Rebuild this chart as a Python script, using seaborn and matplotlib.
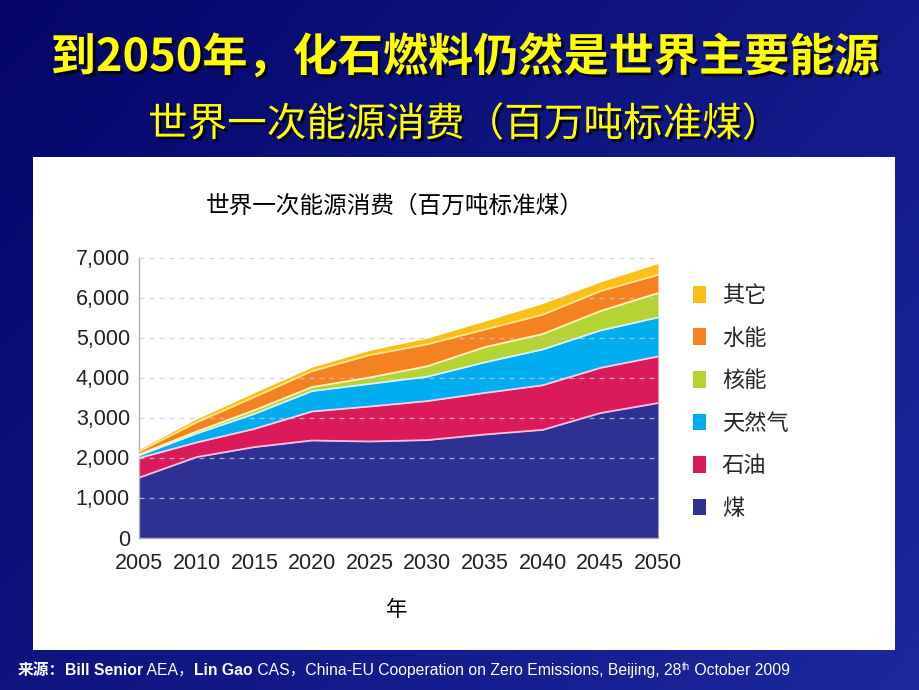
import numpy as np
import pandas as pd
import matplotlib
matplotlib.use('Agg')
import matplotlib.pyplot as plt
import matplotlib.patheffects as pe
from matplotlib.patches import Rectangle, Patch
import seaborn as sns

# 数据（百万吨标准煤）
years = [2005, 2010, 2015, 2020, 2025, 2030, 2035, 2040, 2045, 2050]
coal = [1495, 2010, 2260, 2425, 2400, 2435, 2575, 2690, 3110, 3360]
oil = [490, 365, 455, 725, 875, 975, 1040, 1115, 1130, 1165]
gas = [65, 225, 375, 510, 565, 610, 765, 895, 935, 975]
nuclear = [25, 50, 90, 100, 160, 260, 380, 385, 485, 610]
hydro = [75, 230, 330, 400, 560, 550, 440, 485, 500, 455]
other = [50, 85, 110, 100, 120, 155, 210, 280, 230, 285]

labels = ['煤', '石油', '天然气', '核能', '水能', '其它']
colors = ['#2e3192', '#da1a5a', '#00aeef', '#b5d334', '#f58220', '#fbc017']
edge_colors = ['#f4bfe0', '#f6cfe6', '#d8f2ff', '#fff4b8', '#ffe48a']
yticks = [0, 1000, 2000, 3000, 4000, 5000, 6000, 7000]

title = '到2050年，化石燃料仍然是世界主要能源'
subtitle = '世界一次能源消费（百万吨标准煤）'
chart_title = '世界一次能源消费（百万吨标准煤）'
xlabel = '年'

sns.set_theme(style='white')
plt.rcParams['font.family'] = ['Noto Sans CJK SC', 'DejaVu Sans']
LATIN = ['Liberation Sans', 'Noto Sans CJK SC']

W, H = 920, 690
fig = plt.figure(figsize=(W / 100, H / 100), dpi=100)

# 深蓝色渐变背景
bg = fig.add_axes([0, 0, 1, 1], zorder=-10)
gx, gy = np.meshgrid(np.linspace(0, 1, 230), np.linspace(0, 1, 170))
t = np.clip(0.6 * gx + 0.4 * (1 - gy), 0, 1)
c0 = np.array([5, 5, 105]) / 255
c1 = np.array([28, 40, 158]) / 255
bg.imshow(c0 + (c1 - c0) * t[..., None], aspect='auto', extent=[0, 1, 0, 1], origin='lower')
bg.axis('off')

# 白色图表面板
fig.patches.append(Rectangle((33 / W, 1 - 650 / H), (895 - 33) / W, (650 - 157) / H,
                             transform=fig.transFigure, facecolor='white',
                             edgecolor='none', zorder=-5))

ax = fig.add_axes([139 / W, 1 - 537.5 / H, (658 - 139) / W, 280 / H])
ax.set_facecolor('white')

layers = np.vstack([coal, oil, gas, nuclear, hydro, other])
cum = np.cumsum(layers, axis=0)
base = np.zeros(len(years))
for i in range(len(labels)):
    ax.fill_between(years, base, cum[i], color=colors[i], lw=0, zorder=2)
    base = cum[i]

# 层间分界线
rows = []
for i in range(len(labels) - 1):
    for y, v in zip(years, cum[i]):
        rows.append({'year': y, 'top': v, 'layer': labels[i]})
edges = pd.DataFrame(rows)
sns.lineplot(data=edges, x='year', y='top', hue='layer', palette=edge_colors,
             lw=1.3, legend=False, ax=ax, zorder=3)

ax.set_xlim(2005, 2050)
ax.set_ylim(0, 7000)
ax.set_xticks(years, labels=[str(y) for y in years], fontsize=15.5, fontfamily=LATIN, color='#222222')
ax.set_yticks(yticks, labels=[f'{v:,}' for v in yticks], fontsize=15.5, fontfamily=LATIN, color='#222222')
ax.set_xlabel('')
ax.set_ylabel('')
ax.set_axisbelow(False)
ax.yaxis.grid(True, ls=(0, (4, 4)), color='#c8c8d8', lw=0.9, alpha=0.8)
ax.xaxis.grid(False)
ax.tick_params(axis='x', direction='in', length=5, width=1, color='#d8d8e8', pad=11)
ax.tick_params(axis='y', length=0, pad=6.5)
for s in ['top', 'right']:
    ax.spines[s].set_visible(False)
for s in ['left', 'bottom']:
    ax.spines[s].set_color('#b0b0b0')
    ax.spines[s].set_linewidth(1)

# 图例
handles = [Patch(facecolor=colors[i], edgecolor='none', label=labels[i])
           for i in reversed(range(len(labels)))]
leg = fig.legend(handles=handles, loc='upper left', bbox_to_anchor=(693 / W, 1 - 284 / H),
                 frameon=False, fontsize=16, handlelength=0.6, handleheight=0.78,
                 handletextpad=0.7, labelspacing=0.88, borderaxespad=0, borderpad=0)
for txt in leg.get_texts():
    txt.set_fontweight('medium')

# 标题
shadow = [pe.withSimplePatchShadow(offset=(2, -2), shadow_rgbFace='black', alpha=0.8)]
fig.text(465 / W, 1 - 58 / H, title, ha='center', va='center', fontsize=32.5,
         fontweight='bold', style='italic', color='#ffff00', path_effects=shadow)
fig.text(465 / W, 1 - 125 / H, subtitle, ha='center', va='center', fontsize=28.5,
         color='#ffff00', path_effects=shadow)
fig.text(395 / W, 1 - 206 / H, chart_title, ha='center', va='center', fontsize=17,
         color='black', fontweight='medium')
fig.text(397 / W, 1 - 610 / H, xlabel, ha='center', va='center', fontsize=15.5,
         color='black', fontweight='medium')

# 来源
segs = [('来源：', 'bold', 11.3, 0),
        ('Bill Senior', 'bold', 11.3, 0),
        (' AEA，', 'normal', 11.3, 0),
        ('Lin Gao', 'bold', 11.3, 0),
        (' CAS，China-EU Cooperation on Zero Emissions, Beijing, 28', 'normal', 11.3, 0),
        ('th', 'normal', 7, 5),
        (' October 2009', 'normal', 11.3, 0)]
renderer = fig.canvas.get_renderer()
x = 18
y0 = H - 675
for txt, weight, size, dy in segs:
    tt = fig.text(x / W, (y0 + dy) / H, txt, ha='left', va='baseline', fontsize=size,
                  fontweight=weight, color='white', fontfamily=LATIN)
    x += tt.get_window_extent(renderer).width + (1 if txt == '28' or txt.endswith('28') else 0)

fig.savefig('out.png', dpi=100)
